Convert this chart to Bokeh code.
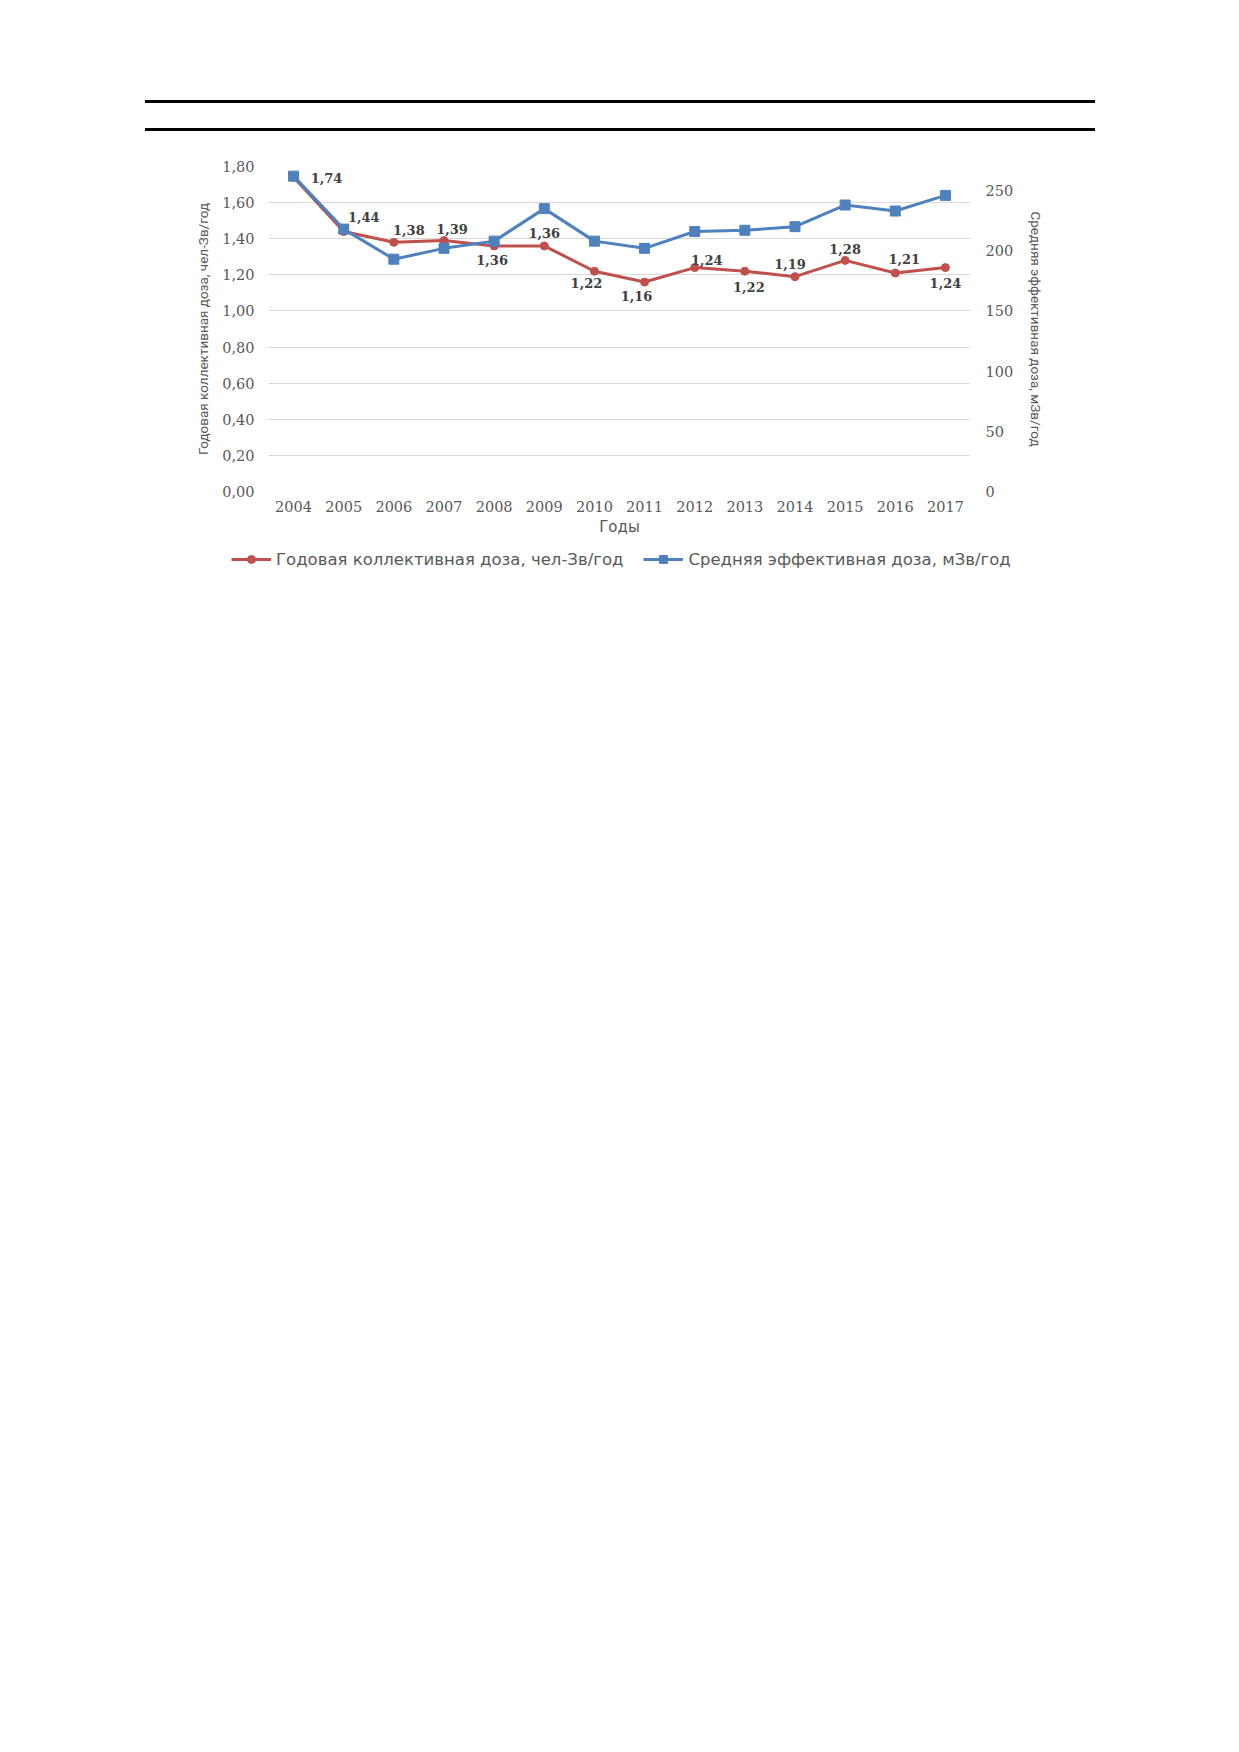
from bokeh.plotting import figure
from bokeh.models import (Range1d, FactorRange, LinearAxis, FixedTicker, CustomJSTickFormatter,
                          ColumnDataSource, LabelSet, Legend, LegendItem, Div)
from bokeh.core.properties import value
from bokeh.layouts import column, row
from bokeh.embed import file_html
from bokeh.resources import INLINE

years = ["2004", "2005", "2006", "2007", "2008", "2009", "2010",
         "2011", "2012", "2013", "2014", "2015", "2016", "2017"]
collective = [1.74, 1.44, 1.38, 1.39, 1.36, 1.36, 1.22, 1.16, 1.24, 1.22, 1.19, 1.28, 1.21, 1.24]
mean_eff = [262, 218, 193, 202, 208, 235, 208, 202, 216, 217, 220, 238, 233, 246]
left_ticks = [0.0, 0.2, 0.4, 0.6, 0.8, 1.0, 1.2, 1.4, 1.6, 1.8]
right_ticks = [0, 50, 100, 150, 200, 250]

# label placement (screen px offsets: right, down)
lbl_dx = [33, 20, 15, 8, -2, 0, -8, -8, 12, 4, -5, 0, 9, 0]
lbl_dy = [1, -15, -12, -12, 14, -13, 12, 14, -8, 16, -13, -11, -14, 15]

RED = "#C0504D"
BLUE = "#4F81BD"
GRAY = "#595959"
W = 1223

src = ColumnDataSource(dict(
    year=years, red=collective, blue=mean_eff,
    lbl=[f"{v:.2f}".replace(".", ",") for v in collective],
    xo=lbl_dx, yo=[-d for d in lbl_dy],
))

xr = FactorRange(*years, range_padding=0)
p = figure(x_range=xr, y_range=Range1d(0, 1.8),
           width=W, height=398, output_backend="svg", toolbar_location=None,
           min_border_left=268, min_border_right=253, min_border_top=26, min_border_bottom=46)
p.extra_y_ranges = {"right": Range1d(0, 270)}
p.outline_line_color = None

fmt = CustomJSTickFormatter(code="return tick.toFixed(2).replace('.', ',');")
p.yaxis.ticker = FixedTicker(ticks=left_ticks)
p.yaxis.formatter = fmt

ra = LinearAxis(y_range_name="right", ticker=FixedTicker(ticks=right_ticks))
p.add_layout(ra, "right")

for ax in [p.xaxis[0], p.yaxis[0], ra]:
    ax.axis_line_color = None
    ax.major_tick_line_color = None
    ax.minor_tick_line_color = None
    ax.major_tick_out = 0
    ax.major_tick_in = 0
    ax.minor_tick_out = 0
    ax.major_label_text_font = "DejaVu Serif"
    ax.major_label_text_font_size = "14.5px"
    ax.major_label_text_color = GRAY
    ax.axis_label_text_color = GRAY
    ax.axis_label_text_font_style = "normal"

p.yaxis[0].axis_label = "Годовая коллективная доза, чел-Зв/год"
p.yaxis[0].axis_label_text_font = "Roboto"
p.yaxis[0].axis_label_text_font_size = "13.5px"
p.yaxis[0].major_label_standoff = 14
p.yaxis[0].axis_label_standoff = 8

ra.axis_label = "Средняя эффективная доза, мЗв/год"
ra.axis_label_text_font = "Roboto"
ra.axis_label_text_font_size = "13.5px"
ra.major_label_standoff = 15
ra.axis_label_standoff = 12

p.xaxis[0].axis_label = "Годы"
p.xaxis[0].axis_label_text_font = "DejaVu Sans"
p.xaxis[0].axis_label_text_font_size = "15px"
p.xaxis[0].major_label_standoff = 9
p.xaxis[0].axis_label_standoff = 3

p.xgrid.grid_line_color = None
p.ygrid.grid_line_color = "#D9D9D9"
p.ygrid.grid_line_width = 1

p.line("year", "red", source=src, line_color=RED, line_width=3)
p.scatter("year", "red", source=src, marker="circle", size=8, fill_color=RED, line_color=RED)
p.line("year", "blue", source=src, y_range_name="right", line_color=BLUE, line_width=3)
p.scatter("year", "blue", source=src, y_range_name="right", marker="square", size=10,
          fill_color=BLUE, line_color=BLUE)

labels = LabelSet(x="year", y="red", text="lbl", source=src, x_offset="xo", y_offset="yo",
                  text_align="center", text_baseline="middle", text_font=value("DejaVu Serif"),
                  text_font_size="13px", text_font_style="bold", text_color="#404040")
p.add_layout(labels)

# legend strip (same series, legend only)
q = figure(x_range=FactorRange(*years, range_padding=0), y_range=Range1d(0, 1.8),
           width=W, height=36, output_backend="svg", toolbar_location=None,
           min_border_left=0, min_border_right=0, min_border_top=0, min_border_bottom=0,
           x_axis_location=None, y_axis_location=None)
q.extra_y_ranges = {"right": Range1d(0, 270)}
q.outline_line_color = None
q.xgrid.grid_line_color = None
q.ygrid.grid_line_color = None
ql = q.line("year", "red", source=src, line_color=RED, line_width=3)
qs = q.scatter("year", "red", source=src, marker="circle", size=8, fill_color=RED, line_color=RED)
qbl = q.line("year", "blue", source=src, y_range_name="right", line_color=BLUE, line_width=3)
qbs = q.scatter("year", "blue", source=src, y_range_name="right", marker="square", size=10,
                fill_color=BLUE, line_color=BLUE)
for r in (ql, qs, qbl, qbs):
    r.visible = False

legend = Legend(items=[
    LegendItem(label="Годовая коллективная доза, чел-Зв/год", renderers=[ql, qs]),
    LegendItem(label="Средняя эффективная доза, мЗв/год", renderers=[qbl, qbs]),
], orientation="horizontal", location=(231, 5))
legend.glyph_width = 40
legend.label_standoff = 5
legend.spacing = 20
legend.border_line_color = None
legend.background_fill_alpha = 0
legend.inactive_fill_alpha = 0
legend.label_text_font = "DejaVu Sans"
legend.label_text_font_size = "16.5px"
legend.label_text_color = GRAY
legend.margin = 0
legend.padding = 4
q.add_layout(legend, "center")

rule = ("position:absolute;left:140px;width:950px;height:3px;background:#000;")
top_div = Div(width=W, height=130, text=(
    '<div style="position:relative;width:1223px;height:130px;">'
    f'<div style="{rule}top:95px;"></div>'
    f'<div style="{rule}top:123px;"></div>'
    '</div>'))

layout = column(top_div, p, row(q), spacing=0)
open("out.html", "w").write(file_html(layout, INLINE))
